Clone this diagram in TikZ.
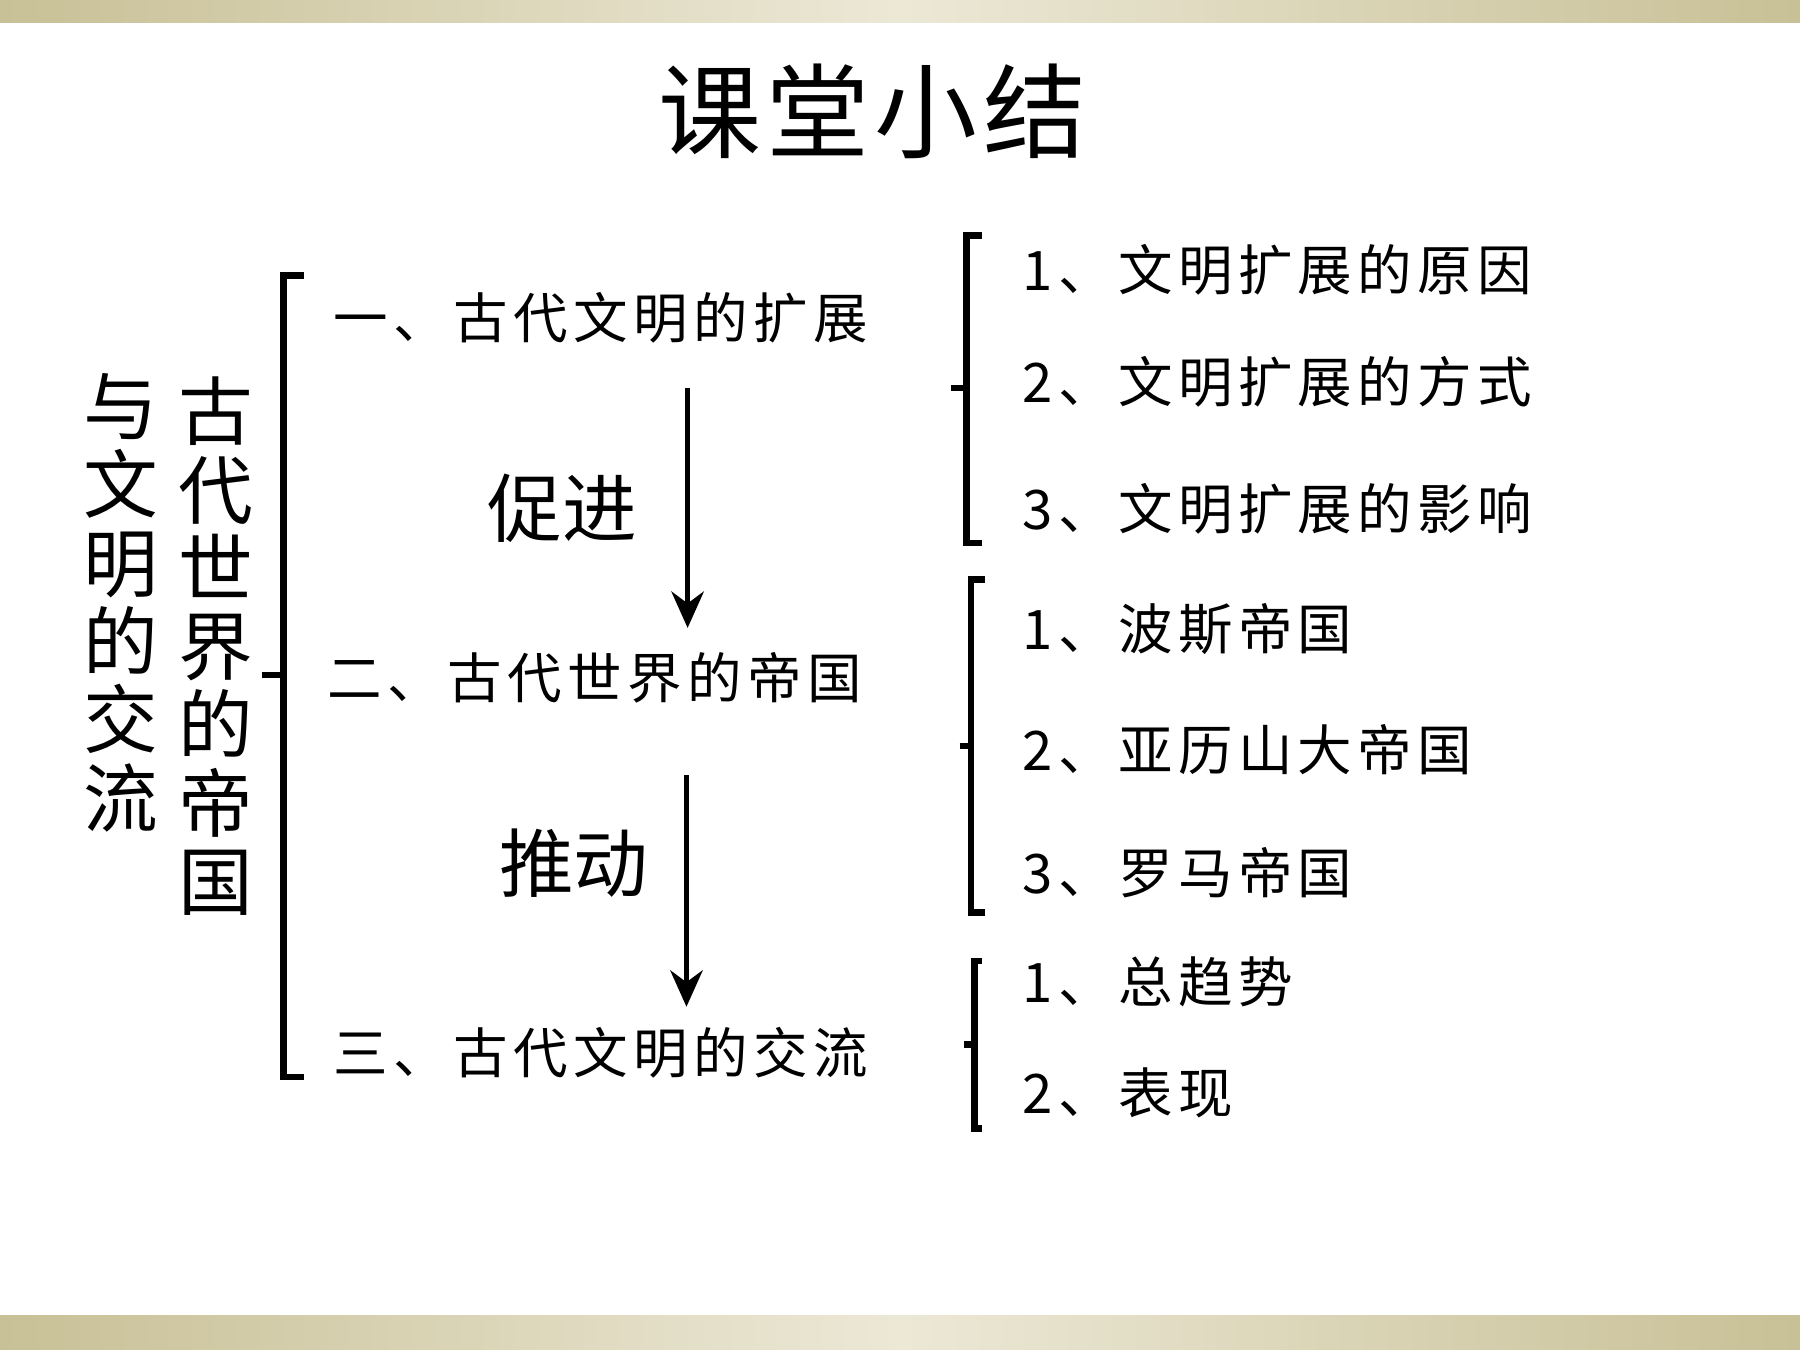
\documentclass[tikz,border=0pt]{standalone}
\usepackage{fontspec}
\setmainfont{Noto Sans CJK SC}
\newfontfamily\spaced{Noto Sans CJK SC}[LetterSpace=10]
\newfontfamily\spacedtitle{Noto Sans CJK SC}[LetterSpace=5]
\usetikzlibrary{arrows.meta}
\definecolor{barc}{RGB}{200,192,150}
\definecolor{barl}{RGB}{236,232,214}
\tikzset{
  item/.style={anchor=west, inner sep=0pt, font=\spaced\fontsize{13.5}{15}\selectfont},
  cue/.style={inner sep=0pt, font=\fontsize{18.5}{20}\selectfont},
  brk/.style={line width=1.6pt, line join=miter},
  flow/.style={line width=1.4pt, -{Stealth[length=9pt,width=8pt]}}
}
\begin{document}
\begin{tikzpicture}[x=0.01cm, y=-0.01cm]
  \useasboundingbox (0,0) rectangle (1568,1176);
  \fill[white] (0,0) rectangle (1568,1176);

  % ---- bars ----
  \shade[left color=barc, right color=barc, middle color=barl] (0,0) rectangle (1568,20);
  \shade[left color=barc, right color=barc, middle color=barl] (0,1146) rectangle (1568,1176);

  % ---- title ----
  \node[inner sep=0pt, font=\spacedtitle\fontsize{25.5}{27}\selectfont] (title) at (760,97) {课堂小结};

  % ---- vertical headline ----
  \node[cue, align=center, font=\fontsize{18.5}{19.4}\selectfont] (headA) at (188,563)
    {古\\代\\世\\界\\的\\帝\\国};
  \node[cue, align=center, font=\fontsize{18.5}{19.4}\selectfont] (headB) at (105,525)
    {与\\文\\明\\的\\交\\流};

  % ---- main brace ----
  \draw[brk] (265,240) -- (247,240) -- (247,938) -- (265,938);
  \draw[brk] (228,588) -- (247,588);

  % ---- sections ----
  \node[item] (s1) at (290,277) {一、古代文明的扩展};
  \node[item] (s2) at (285,590) {二、古代世界的帝国};
  \node[item] (s3) at (290,917) {三、古代文明的交流};

  \node[cue] (c1) at (490,443) {促进};
  \node[cue] (c2) at (500,752) {推动};

  \coordinate (a1) at (599,338);
  \coordinate (b1) at (599,547);
  \coordinate (a2) at (598,675);
  \coordinate (b2) at (598,877);
  \draw[flow] (a1) -- (b1);
  \draw[flow] (a2) -- (b2);

  % ---- right braces ----
  \draw[brk] (855,205) -- (842,205) -- (842,473) -- (855,473);
  \draw[brk] (828,338) -- (842,338);
  \draw[brk] (858,505) -- (846,505) -- (846,795) -- (858,795);
  \draw[brk] (836,650) -- (846,650);
  \draw[brk] (855,837) -- (849,837) -- (849,983) -- (855,983);
  \draw[brk] (840,910) -- (849,910);

  % ---- details ----
  \node[item] (d11) at (890,235) {1、文明扩展的原因};
  \node[item] (d12) at (890,333) {2、文明扩展的方式};
  \node[item] (d13) at (890,443) {3、文明扩展的影响};
  \node[item] (d21) at (890,548) {1、波斯帝国};
  \node[item] (d22) at (890,653) {2、亚历山大帝国};
  \node[item] (d23) at (890,760) {3、罗马帝国};
  \node[item] (d31) at (890,855) {1、总趋势};
  \node[item] (d32) at (890,952) {2、表现};
\end{tikzpicture}
\end{document}
